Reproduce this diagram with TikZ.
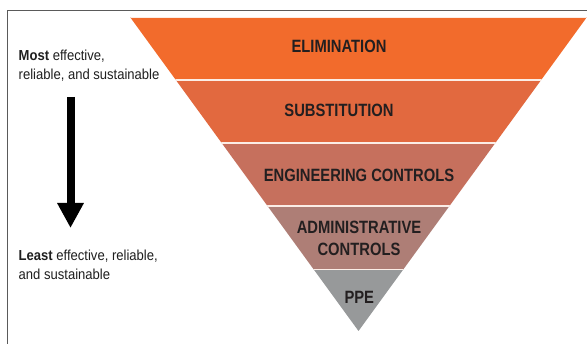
\documentclass[tikz,border=0pt]{standalone}
\usepackage{fontspec}
\setmainfont{Liberation Sans}
\newfontfamily\trifont[FakeStretch=0.83]{Liberation Sans}
\newfontfamily\sidefont[FakeStretch=0.9]{Liberation Sans}
\usetikzlibrary{arrows.meta}
\definecolor{elimcol}{HTML}{F26B2C}
\definecolor{subcol}{HTML}{E2693F}
\definecolor{engcol}{HTML}{C6705D}
\definecolor{admcol}{HTML}{AE7E76}
\definecolor{ppecol}{HTML}{97999A}
\definecolor{framecol}{HTML}{5A5A5A}
\definecolor{txtcol}{HTML}{231F20}
\definecolor{sepcol}{HTML}{FBEDE6}
\tikzset{
  tri/.style={inner sep=0pt, align=center, text=txtcol,
    font=\trifont\bfseries\fontsize{17.8}{21.7}\selectfont},
  side/.style={inner sep=0pt, align=left, anchor=north west, text=black!88,
    font=\sidefont\fontsize{14.5}{19}\selectfont},
  sepline/.style={sepcol, line width=1.8pt},
  bigarrow/.style={black, line width=8pt, -{Triangle[width=25pt,length=25pt]}}
}
\begin{document}
\begin{tikzpicture}[x=1pt,y=-1pt]
\useasboundingbox (0,0) rectangle (587,344);
\fill[white] (0,0) rectangle (587,344);
% frame
\draw[framecol, line width=1.3pt] (7.7,350) -- (7.7,10.7) -- (595,10.7);
% inverted pyramid
\coordinate (TL) at (130,17);
\coordinate (TR) at (587,17);
\coordinate (AP) at (358.5,331);
\begin{scope}
  \clip (TL) -- (TR) -- (AP) -- cycle;
  \fill[elimcol] (100,17) rectangle (600,80);
  \fill[subcol] (100,80) rectangle (600,143);
  \fill[engcol] (100,143) rectangle (600,206);
  \fill[admcol] (100,206) rectangle (600,269.5);
  \fill[ppecol] (100,269.5) rectangle (600,335);
  \draw[sepline] (100,17.5) -- (600,17.5);
  \draw[sepline] (100,80) -- (600,80);
  \draw[sepline] (100,143) -- (600,143);
  \draw[sepline] (100,206) -- (600,206);
  \draw[sepline] (100,269.5) -- (600,269.5);
\end{scope}
\node[tri] (elim) at (339,46) {ELIMINATION};
\node[tri] (subst) at (339,110.7) {SUBSTITUTION};
\node[tri] (eng) at (359,175) {ENGINEERING CONTROLS};
\node[tri] (adm) at (359,238.2) {ADMINISTRATIVE\\CONTROLS};
\node[tri] (ppe) at (359.3,297.5) {PPE};
% side labels
\node[side] (most) at (18.5,49.3) {\textbf{Most} effective,\\reliable, and sustainable};
\node[side] (least) at (18.5,249.3) {\textbf{Least} effective, reliable,\\and sustainable};
% arrow
\coordinate (atop) at (70.5,97);
\coordinate (abot) at (70.5,228);
\draw[bigarrow] (atop) -- (abot);
\end{tikzpicture}
\end{document}
